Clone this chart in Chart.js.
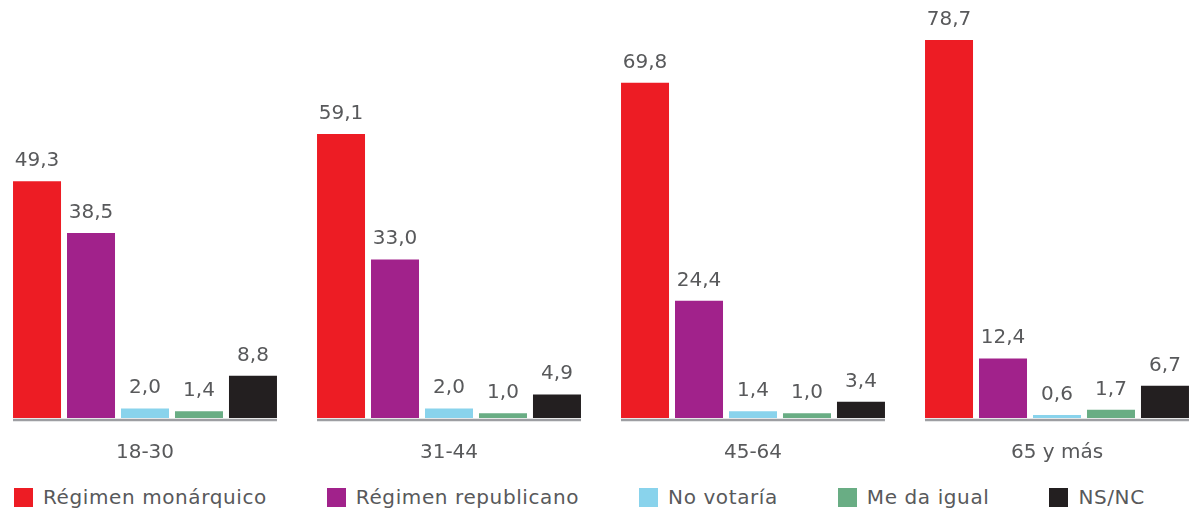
<!DOCTYPE html>
<html>
<head>
<meta charset="utf-8">
<script src="https://cdn.jsdelivr.net/npm/chart.js@4.4.1/dist/chart.umd.min.js"></script>
<style>
  html, body { margin: 0; padding: 0; background: #fff; overflow: hidden; }
  body { width: 1193px; height: 513px; position: relative; font-family: "DejaVu Sans", sans-serif; }
  #wrap { position: absolute; left: -7px; top: 0; width: 1216px; height: 480px; }
  #legend { position: absolute; left: 14px; top: 485px; display: flex; align-items: center; gap: 60px; }
  .item { display: flex; align-items: center; font-size: 20px; color: #58595b; letter-spacing: 0.6px; }
  .item i { display: inline-block; width: 19px; height: 19px; margin-right: 10px; }
</style>
</head>
<body>
<div id="wrap"><canvas id="chart"></canvas></div>
<div id="legend"></div>
<script>
// ── Data ───────────────────────────────────────────────────────
const CATEGORIES  = ['18-30', '31-44', '45-64', '65 y más'];
const SERIES      = ['Régimen monárquico', 'Régimen republicano', 'No votaría', 'Me da igual', 'NS/NC'];
const MONARQUICO  = [49.3, 59.1, 69.8, 78.7];
const REPUBLICANO = [38.5, 33.0, 24.4, 12.4];
const NO_VOTARIA  = [2.0, 2.0, 1.4, 0.6];
const ME_DA_IGUAL = [1.4, 1.0, 1.0, 1.7];
const NS_NC       = [8.8, 4.9, 3.4, 6.7];

const COLORS     = ['#ED1C24', '#A1228B', '#89D3EC', '#69AD84', '#231F20'];
const TEXT_COLOR = '#58595b';
const FONT       = '"DejaVu Sans", sans-serif';

const fmt = v => v.toFixed(1).replace('.', ',');

// ── Plugins ────────────────────────────────────────────────────

// value labels above each bar
const valueLabels = {
  id: 'valueLabels',
  afterDatasetsDraw(chart) {
    const ctx = chart.ctx;
    ctx.save();
    ctx.font = `20px ${FONT}`;
    ctx.fillStyle = TEXT_COLOR;
    ctx.textAlign = 'center';
    ctx.textBaseline = 'alphabetic';
    chart.data.datasets.forEach((ds, di) => {
      chart.getDatasetMeta(di).data.forEach((bar, i) => {
        ctx.fillText(fmt(ds.data[i]), bar.x, bar.y - 15);
      });
    });
    ctx.restore();
  },
};

// grey baseline under each group of bars
const groupBaseline = {
  id: 'groupBaseline',
  afterDatasetsDraw(chart) {
    const ctx = chart.ctx;
    const first = chart.getDatasetMeta(0).data;
    const last  = chart.getDatasetMeta(chart.data.datasets.length - 1).data;
    const y = chart.chartArea.bottom + 2;
    ctx.save();
    ctx.strokeStyle = '#9d9ea2';
    ctx.lineWidth = 2.5;
    first.forEach((bar, i) => {
      ctx.beginPath();
      ctx.moveTo(bar.x - bar.width / 2, y);
      ctx.lineTo(last[i].x + last[i].width / 2, y);
      ctx.stroke();
    });
    ctx.restore();
  },
};

// ── Chart ──────────────────────────────────────────────────────

const values = [MONARQUICO, REPUBLICANO, NO_VOTARIA, ME_DA_IGUAL, NS_NC];

new Chart(document.getElementById('chart'), {
  type: 'bar',
  data: {
    labels: CATEGORIES,
    datasets: SERIES.map((name, i) => ({
      label: name,
      data: values[i],
      backgroundColor: COLORS[i],
      borderWidth: 0,
      categoryPercentage: 0.888,
      barPercentage: 0.889,
    })),
  },
  options: {
    responsive: true,
    maintainAspectRatio: false,
    animation: false,
    layout: { padding: 0 },
    plugins: {
      legend: { display: false },
      tooltip: { enabled: false },
    },
    scales: {
      x: {
        grid: { display: false },
        border: { display: false },
        ticks: { color: TEXT_COLOR, font: { family: FONT, size: 20 }, padding: 15 },
      },
      y: { display: false, min: 0, max: 87 },
    },
  },
  plugins: [valueLabels, groupBaseline],
});

// ── Legend ─────────────────────────────────────────────────────

document.getElementById('legend').innerHTML = SERIES.map((name, i) =>
  `<span class="item"><i style="background:${COLORS[i]}"></i>${name}</span>`
).join('');
</script>
</body>
</html>
